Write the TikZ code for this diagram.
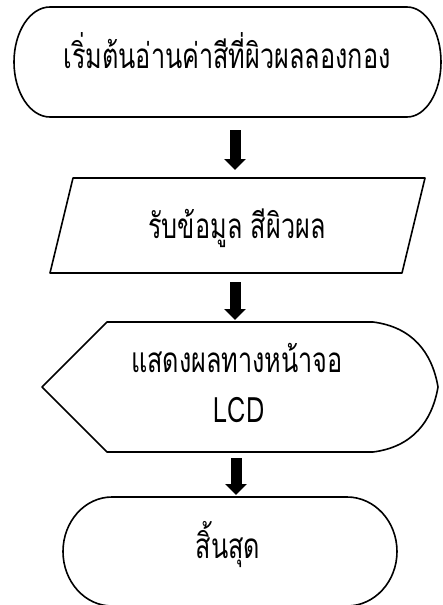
\documentclass[tikz,border=0pt]{standalone}
\usepackage{fontspec}
\usepackage{graphicx}
\newfontfamily\thaifont[Script=Thai]{Loma}
\newcommand\tallthai[1]{\scalebox{1.01}[1.4]{#1}}
\usetikzlibrary{arrows.meta}
\tikzset{
  shapeline/.style={draw=black, line width=1.6pt, line join=round},
  lbl/.style={font=\thaifont\fontsize{25}{30}\selectfont, inner sep=0pt, anchor=base},
  blockarrow/.style={line width=11pt, -{Triangle[width=21pt,length=11pt]}}
}
\begin{document}
\begin{tikzpicture}[x=1pt,y=-1pt]
\useasboundingbox (0,0) rectangle (443,605);
% start terminal
\draw[shapeline] (50,7) -- (407,7) arc[start angle=-90, end angle=90, x radius=34, y radius=55] -- (50,117) arc[start angle=90, end angle=270, x radius=36, y radius=55] -- cycle;
\node[lbl] (start) at (227,68) {\tallthai{เริ่มต้นอ่านค่าสีที่ผิวผลลองกอง}};
% input
\draw[shapeline] (73,178) -- (425,178) -- (402,273) -- (50,273) -- cycle;
\node[lbl] (input) at (237,238) {\tallthai{รับข้อมูล สีผิวผล}};
% display
\draw[shapeline] (107,322) -- (373,322) .. controls (412,327) and (432,352) .. (438,387) .. controls (432,422) and (412,447) .. (373,452) -- (107,452) -- (42,387) -- cycle;
\node[lbl] (disp1) at (237,372) {\tallthai{แสดงผลทางหน้าจอ}};
\node[lbl] (disp2) at (239,422) {\tallthai{LCD}};
% end terminal
\draw[shapeline] (112,497) -- (347,497) arc[start angle=-90, end angle=90, x radius=50, y radius=54.5] -- (112,606) arc[start angle=90, end angle=270, x radius=49, y radius=54.5] -- cycle;
\node[lbl] (end) at (228,558) {\tallthai{สิ้นสุด}};
% arrows
\coordinate (a1s) at (235,130);
\coordinate (a1e) at (235,170);
\coordinate (a2s) at (235,282);
\coordinate (a2e) at (235,320);
\coordinate (a3s) at (236,458);
\coordinate (a3e) at (236,495);
\draw[blockarrow] (a1s) -- (a1e);
\draw[blockarrow] (a2s) -- (a2e);
\draw[blockarrow] (a3s) -- (a3e);
\end{tikzpicture}
\end{document}
